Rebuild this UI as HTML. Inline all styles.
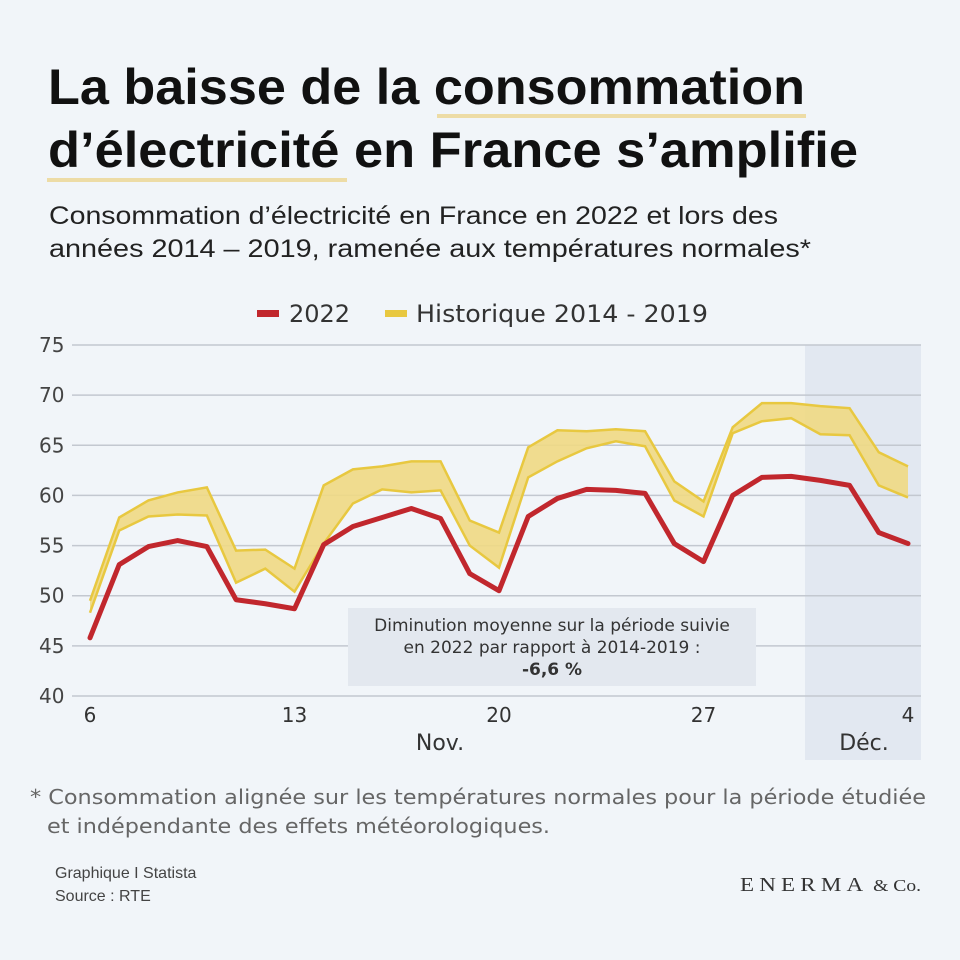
<!DOCTYPE html>
<html><head><meta charset="utf-8"><style>
html,body{margin:0;padding:0;background:#f1f5f9;}
svg{display:block;font-family:"Liberation Sans",sans-serif;}
</style></head><body>
<svg id="chart" width="960" height="960" viewBox="0 0 960 960">
<rect width="960" height="960" fill="#f1f5f9"/>
<rect x="437" y="114" width="369" height="4" fill="#eddca6"/>
<rect x="47" y="178" width="300" height="4" fill="#eddca6"/>
<g font-weight="bold" font-size="50" fill="#111">
<text x="48" y="104" textLength="757" lengthAdjust="spacingAndGlyphs">La baisse de la consommation</text>
<text x="48" y="167" textLength="810" lengthAdjust="spacingAndGlyphs">d’électricité en France s’amplifie</text>
</g>
<g font-size="25" fill="#222">
<text x="49" y="224" textLength="729" lengthAdjust="spacingAndGlyphs">Consommation d’électricité en France en 2022 et lors des</text>
<text x="49" y="257" textLength="762" lengthAdjust="spacingAndGlyphs">années 2014 – 2019, ramenée aux températures normales*</text>
</g>
<g font-family="DejaVu Sans, sans-serif" font-size="24" fill="#333">
<rect x="257" y="310" width="22" height="7" fill="#c1272d"/>
<text x="289" y="322">2022</text>
<rect x="385" y="310" width="22" height="7" fill="#e8c840"/>
<text x="416" y="322" textLength="292" lengthAdjust="spacingAndGlyphs">Historique 2014 - 2019</text>
</g>
<rect x="805" y="345" width="116" height="415" fill="#e2e8f1"/>
<g id="grid"></g>
<g id="yticks" font-family="DejaVu Sans, sans-serif" font-size="20" fill="#444"></g>
<rect x="348" y="608" width="408" height="78" fill="#e3e8ef"/>
<g id="marks"></g>
<g font-family="DejaVu Sans, sans-serif" font-size="17" fill="#333" text-anchor="middle">
<text x="552" y="631">Diminution moyenne sur la période suivie</text>
<text x="552" y="653">en 2022 par rapport à 2014-2019 :</text>
<text x="552" y="675" font-weight="bold">-6,6 %</text>
</g>
<g id="xticks" font-family="DejaVu Sans, sans-serif" font-size="20" fill="#333" text-anchor="middle"></g>
<g font-family="DejaVu Sans, sans-serif" font-size="22" fill="#333" text-anchor="middle">
<text x="440" y="750">Nov.</text>
<text x="864" y="750">Déc.</text>
</g>
<g font-family="DejaVu Sans, sans-serif" font-size="20" fill="#666">
<text x="30" y="804" textLength="896" lengthAdjust="spacingAndGlyphs">* Consommation alignée sur les températures normales pour la période étudiée</text>
<text x="47" y="833" textLength="503" lengthAdjust="spacingAndGlyphs">et indépendante des effets météorologiques.</text>
</g>
<g font-size="16" fill="#444">
<text x="55" y="878">Graphique I Statista</text>
<text x="55" y="901">Source : RTE</text>
</g>
<text x="740" y="891" font-family="Liberation Serif, serif" font-size="20" fill="#333" letter-spacing="4.5" textLength="181" lengthAdjust="spacingAndGlyphs">ENERMA<tspan font-size="17" letter-spacing="0"> &amp; Co.</tspan></text>
</svg>
<script>
const days=[6,7,8,9,10,11,12,13,14,15,16,17,18,19,20,21,22,23,24,25,26,27,28,29,30,1,2,3,4];
const values2022=[45.8,53.1,54.9,55.5,54.9,49.6,49.2,48.7,55.1,56.9,57.8,58.7,57.7,52.2,50.5,57.9,59.7,60.6,60.5,60.2,55.2,53.4,60.0,61.8,61.9,61.5,61.0,56.3,55.2];
const histUpper=[49.5,57.8,59.5,60.3,60.8,54.5,54.6,52.7,61.0,62.6,62.9,63.4,63.4,57.5,56.3,64.8,66.5,66.4,66.6,66.4,61.4,59.4,66.8,69.2,69.2,68.9,68.7,64.3,62.9];
const histLower=[48.3,56.5,57.9,58.1,58.0,51.3,52.7,50.4,55.2,59.2,60.6,60.3,60.5,55.0,52.8,61.8,63.4,64.7,65.4,64.9,59.5,57.9,66.2,67.4,67.7,66.1,66.0,61.0,59.8];
const yTicks=[40,45,50,55,60,65,70,75];
const xTickLabels=["6","13","20","27","4"];
const xTickIdx=[0,7,14,21,28];
const NS="http://www.w3.org/2000/svg";
const X0=90,X1=908,Y0=696,Y1=345,YMIN=40,YMAX=75;
const x=i=>X0+(X1-X0)*i/(days.length-1);
const y=v=>Y0-(v-YMIN)/(YMAX-YMIN)*(Y0-Y1);
function mk(tag,attrs,parent){const e=document.createElementNS(NS,tag);for(const k in attrs)e.setAttribute(k,attrs[k]);parent.appendChild(e);return e;}
const grid=document.getElementById('grid'),yt=document.getElementById('yticks'),xt=document.getElementById('xticks'),marks=document.getElementById('marks');
yTicks.forEach(v=>{
 const l=mk('line',{x1:72,x2:921,y1:y(v),y2:y(v),stroke:'#c3c8d0','stroke-width':1.5},grid);
 
 
 const t=mk('text',{x:39,y:y(v)+7},yt);t.textContent=v;
 
 
});
xTickIdx.forEach((i,k)=>{
 const t=mk('text',{x:x(i),y:722},xt);t.textContent=xTickLabels[k];
 
 
});
let up=histUpper.map((v,i)=>x(i)+','+y(v));
let lo=histLower.map((v,i)=>x(i)+','+y(v)).reverse();
const band=mk('polygon',{points:up.concat(lo).join(' '),fill:'#efd983','fill-opacity':0.9},marks);


const ul=mk('polyline',{points:up.join(' '),fill:'none',stroke:'#e8c840','stroke-width':2.5},marks);


const ll=mk('polyline',{points:histLower.map((v,i)=>x(i)+','+y(v)).join(' '),fill:'none',stroke:'#e8c840','stroke-width':2.5},marks);


const rl=mk('polyline',{points:values2022.map((v,i)=>x(i)+','+y(v)).join(' '),fill:'none',stroke:'#c1272d','stroke-width':5,'stroke-linejoin':'round','stroke-linecap':'round'},marks);


</script>
</body></html>
